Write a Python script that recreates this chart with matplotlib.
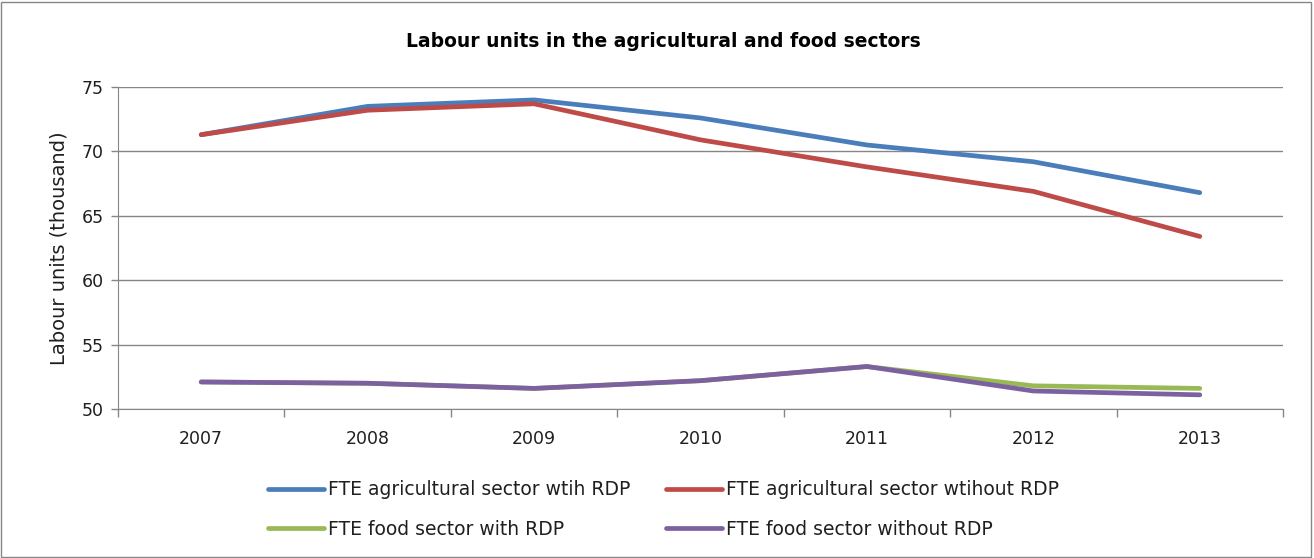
import matplotlib.pyplot as plt
from matplotlib.patches import Rectangle
from matplotlib.ticker import FixedLocator

years = ["2007", "2008", "2009", "2010", "2011", "2012", "2013"]
agri_with_rdp = [71.3, 73.5, 74.0, 72.6, 70.5, 69.2, 66.8]
agri_without_rdp = [71.3, 73.2, 73.7, 70.9, 68.8, 66.9, 63.4]
food_with_rdp = [52.1, 52.0, 51.6, 52.2, 53.3, 51.8, 51.6]
food_without_rdp = [52.1, 52.0, 51.6, 52.2, 53.3, 51.4, 51.1]

series = [
    ("FTE agricultural sector wtih RDP", agri_with_rdp, "#4A7EBB"),
    ("FTE agricultural sector wtihout RDP", agri_without_rdp, "#BE4B48"),
    ("FTE food sector with RDP", food_with_rdp, "#98B954"),
    ("FTE food sector without RDP", food_without_rdp, "#7D60A0"),
]

TEXT = "#1f1f1f"
GRID = "#868686"

plt.rcParams["font.family"] = ["DejaVu Sans"]

fig = plt.figure(figsize=(13.14, 5.58), dpi=100)
ax = fig.add_axes([0.0898, 0.267, 0.8866, 0.577])

x = list(range(len(years)))
lines = []
for label, vals, color in series:
    ln, = ax.plot(x, vals, color=color, lw=3.4, label=label,
                  solid_capstyle="round", solid_joinstyle="round", zorder=3)
    lines.append(ln)

ax.set_xlim(-0.5, len(years) - 0.5)
ax.set_ylim(50, 75)
ax.set_yticks(range(50, 76, 5))
ax.set_xticks(x)
ax.set_xticklabels(years)
# category boundaries carry the tick marks, labels sit between them
ax.xaxis.set_minor_locator(FixedLocator([i - 0.5 for i in range(len(years) + 1)]))
ax.tick_params(axis="x", which="major", length=0, pad=15, labelsize=12.5, labelcolor=TEXT)
ax.tick_params(axis="x", which="minor", length=6, color=GRID, width=1)
ax.tick_params(axis="y", length=5, color=GRID, width=1, labelsize=12.5, pad=5,
               labelcolor=TEXT)
ax.grid(axis="y", color=GRID, lw=1, zorder=0)

for side in ("top", "right"):
    ax.spines[side].set_visible(False)
for side in ("left", "bottom"):
    ax.spines[side].set_color(GRID)

ax.set_ylabel("Labour units (thousand)", fontsize=14, labelpad=10, color=TEXT)
fig.text(0.505, 0.925, "Labour units in the agricultural and food sectors",
         ha="center", va="center", fontsize=13.5, fontweight="bold", color="black")

# row-major order: agricultural pair on top, food pair below
order = [0, 2, 1, 3]
fig.legend([lines[i] for i in order], [series[i][0] for i in order],
           loc="center", bbox_to_anchor=(0.505, 0.087), ncol=2, frameon=False,
           fontsize=13.5, handlelength=3.0, handletextpad=0.2, columnspacing=1.9,
           labelspacing=1.1, labelcolor=TEXT)

fig.patches.append(Rectangle((0.001, 0.002), 0.997, 0.995, transform=fig.transFigure,
                             fill=False, edgecolor=GRID, lw=1))

fig.savefig("out.png", dpi=100)
